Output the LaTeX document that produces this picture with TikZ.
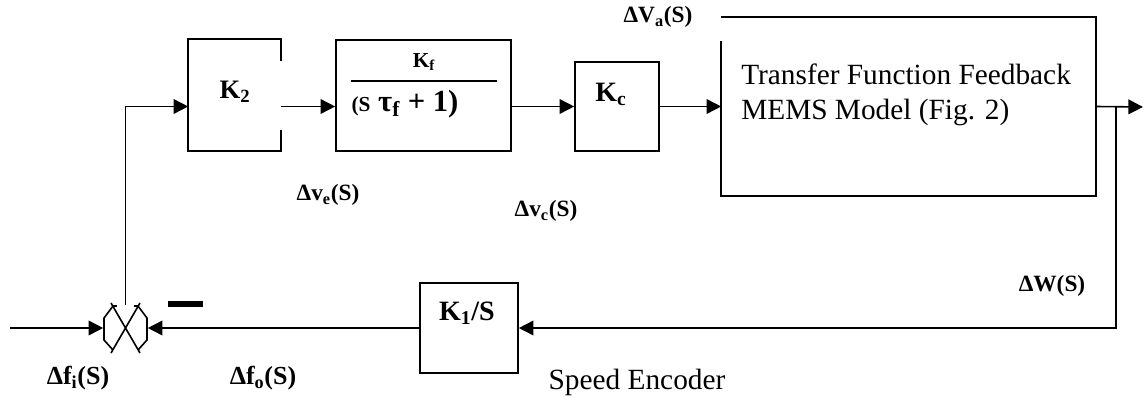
\documentclass[tikz,border=0pt]{standalone}
\usepackage{fontspec}
\setmainfont{Liberation Serif}
\usetikzlibrary{arrows.meta,positioning,fit}
\tikzset{
  blk/.style={draw,inner sep=0pt},
  gap/.style={inner sep=0pt},
  sig/.style={font=\bfseries\fontsize{17.5}{20}\selectfont},
  sigbig/.style={font=\bfseries\fontsize{19.5}{22}\selectfont},
  gain/.style={font=\bfseries\fontsize{#1}{#1}\selectfont},
  plain/.style={font=\fontsize{22}{26}\selectfont}
}
\begin{document}
\begin{tikzpicture}[x=0.75pt,y=-0.75pt,>={Triangle[length=11pt,width=11pt]},line width=1.2pt]
\useasboundingbox (0,0) rectangle (1145,396);
% blocks
\node[gap,fit={(189,40)(280,150)}] (k2) {};
\node[blk,fit={(336,40)(511,151)}] (kf) {};
\node[blk,fit={(575,62)(659,151)}] (kc) {};
\node[gap,fit={(722,18)(1095,195)}] (mems) {};
\node[blk,fit={(420,283)(518,373)}] (k1) {};
\node[gap,fit={(104,306)(147,350)}] (sum) {};
\coordinate (in) at (10,328);
\coordinate (out) at (1143,107);
\coordinate (br) at (1116,107);
% open edges
\draw (k2.north east) ++(0,22) -- (k2.north east) -- (k2.north west) -- (k2.south west) -- (k2.south east) -- ++(0,-21);
\draw (mems.north west) ++(0,24) -- (mems.south west) -- (mems.south east) -- (mems.north east) -- (mems.north west);
% summing junction
\draw (113,306) -- (104,318) -- (104,340) -- (113,350);
\draw (138,306) -- (147,318) -- (147,340) -- (138,350);
\draw (111,303) -- (140,353) (140,303) -- (111,353);
\draw (113,306) -- (117,306) (134,306) -- (138,306);
\draw[line width=4pt] (168,304) -- (203,304);
% block texts
\node[gain=20] at (235,92) {K\textsubscript{2}};
\node[gain=16] at (424,62) {K\textsubscript{f}};
\draw (351,81) -- (497,81);
\node[gain=23] at (405,104) {{\fontsize{16}{16}\selectfont(S} τ\textsubscript{f} + 1)};
\node[gain=21] at (611,94) {K\textsubscript{c}};
\node[gain=21] at (467,313) {K\textsubscript{1}/S};
\node[plain,align=left,anchor=west] at (736,95) {Transfer Function Feedback\\MEMS Model (Fig. 2)};
% connectors
\draw[->] (in) -- (sum.west);
\draw[->] (sum.north) |- (k2.west |- kc);
\draw[->] (k2.east |- kc) -- (kf.west |- kc);
\draw[->] (kf.east |- kc) -- (kc.west);
\draw[->] (kc.east) -- (mems.west);
\draw[->] (mems.east) -- (out);
\draw[->] (br) |- (k1.east);
\draw[->] (k1.west) -- (sum.east);
% signal labels
\node[sig] at (658,17) {ΔV\textsubscript{a}(S)};
\node[sig] at (328,195) {Δv\textsubscript{e}(S)};
\node[sig] at (546,211) {Δv\textsubscript{c}(S)};
\node[sig] at (1052,286) {ΔW(S)};
\node[sigbig] at (78,378) {Δf\textsubscript{i}(S)};
\node[sigbig] at (263,378) {Δf\textsubscript{o}(S)};
\node[plain] at (637,382) {Speed Encoder};
\end{tikzpicture}
\end{document}
